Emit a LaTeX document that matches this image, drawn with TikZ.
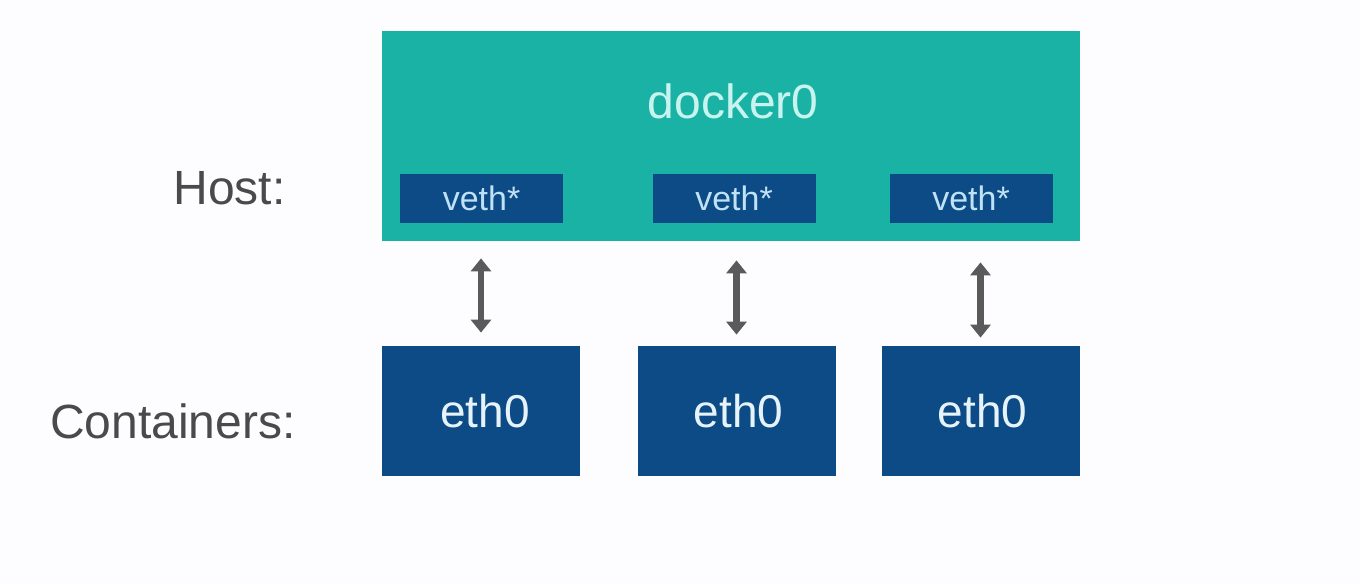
\documentclass[tikz,border=0pt]{standalone}
\usepackage{fontspec}
\setmainfont{Liberation Sans}
\usetikzlibrary{arrows.meta, calc}
\definecolor{bgWhite}{HTML}{FDFCFE}
\definecolor{hostTeal}{HTML}{1BB2A6}
\definecolor{ifBlue}{HTML}{0C4B86}
\definecolor{dockerText}{HTML}{C8F4EF}
\definecolor{vethText}{HTML}{BFE2F6}
\definecolor{ethText}{HTML}{E6F3FA}
\definecolor{arrGray}{HTML}{5A5A5A}
\definecolor{labelGray}{HTML}{4A4A4A}

\tikzset{
	hostbox/.style={fill=hostTeal, minimum width=349pt, minimum height=105pt, inner sep=0pt},
	vethbox/.style={fill=ifBlue, text=vethText, minimum width=81.5pt, minimum height=24.5pt, inner sep=0pt, text depth=0pt, font=\fontsize{17}{20}\selectfont},
	ethbox/.style={fill=ifBlue, text=ethText, minimum width=99pt, minimum height=65pt, inner sep=0pt, font=\fontsize{23}{27}\selectfont},
	sidelabel/.style={text=labelGray, anchor=east, inner sep=0pt, font=\fontsize{24}{28}\selectfont},
	link/.style={arrGray, line width=3.2pt, {Triangle[width=10pt, length=6.5pt]}-{Triangle[width=10pt, length=6.5pt]}}
}

\begin{document}
\begin{tikzpicture}[x=0.5pt, y=-0.5pt]

	\fill[bgWhite] (0,0) rectangle (1360,584);
	\useasboundingbox (0,0) rectangle (1360,584);

	% host side
	\node[hostbox] (host) at (731,136) {};
	\node[text=dockerText, font=\fontsize{24}{28}\selectfont] (docker) at (733,101) {docker0};
	\node[vethbox] (veth1) at (481.5,198.5) {veth*};
	\node[vethbox] (veth2) at (734,198.5) {veth*};
	\node[vethbox] (veth3) at (971,198.5) {veth*};

	% containers
	\node[ethbox] (eth1) at (481,411) {\hspace*{4pt}\raisebox{-1.5pt}{eth0}};
	\node[ethbox] (eth2) at (736.5,411) {\hspace*{2pt}\raisebox{-1.5pt}{eth0}};
	\node[ethbox] (eth3) at (980.5,411) {\hspace*{2pt}\raisebox{-1.5pt}{eth0}};

	\node[sidelabel] (hostlbl) at (286,188) {Host:};
	\node[sidelabel] (contlbl) at (296,421) {Containers:};

	\draw[link, shorten <=8.5pt, shorten >=6.5pt] (eth1.north |- host.south) -- (eth1.north);
	\draw[link, shorten <=9.5pt, shorten >=5.5pt] (eth2.north |- host.south) -- (eth2.north);
	\draw[link, shorten <=10.5pt, shorten >=4pt] (eth3.north |- host.south) -- (eth3.north);

\end{tikzpicture}
\end{document}
